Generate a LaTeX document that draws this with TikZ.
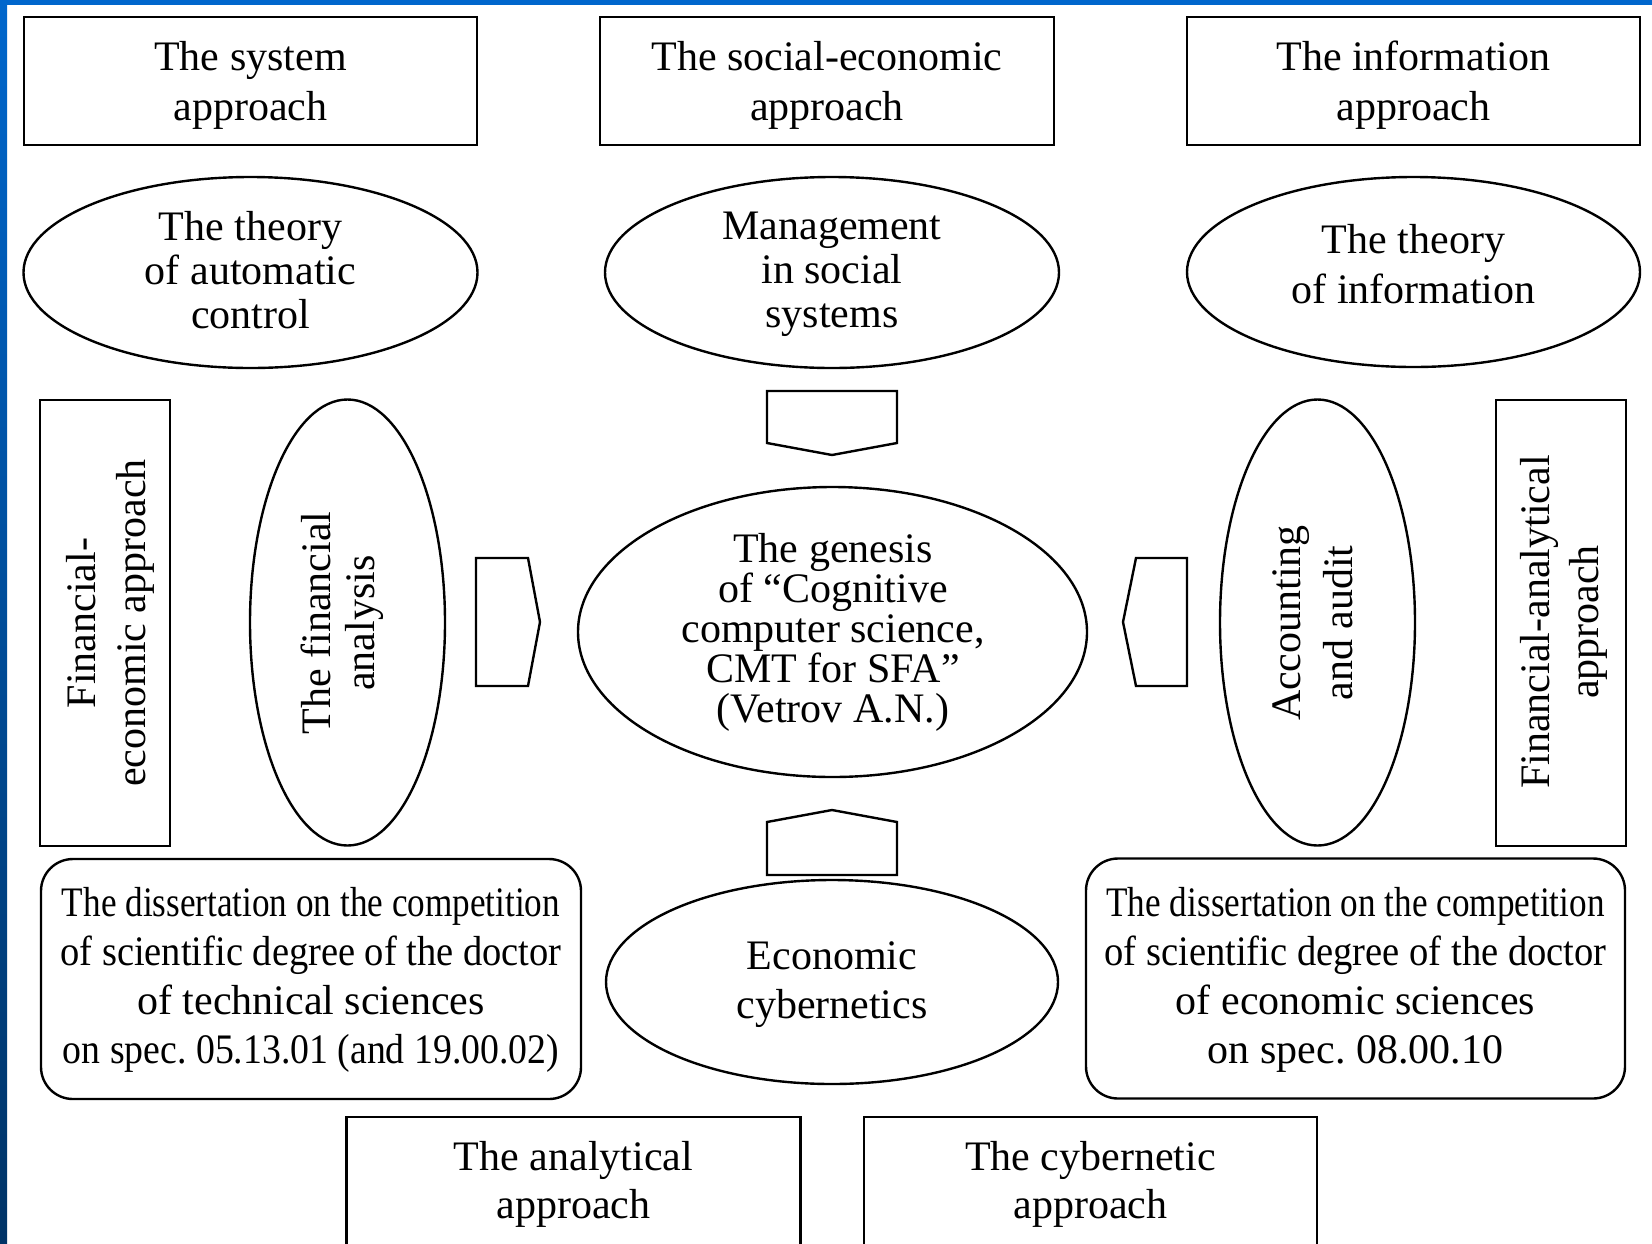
\documentclass[tikz,border=0pt]{standalone}
\usepackage{fontspec}
\setmainfont{Liberation Serif}
\usetikzlibrary{shapes.geometric}
\definecolor{frameblue}{HTML}{0066CC}
\definecolor{framedark}{HTML}{003366}
\newcommand{\squeezeline}[2]{\resizebox{#1pt}{\height}{#2}}
\frenchspacing
\begin{document}
\begin{tikzpicture}[x=1pt,y=-1pt,
  shp/.style={draw=black, line width=2.4pt, inner sep=0pt, fill=white},
  sqbox/.style={shp, rectangle},
  rbox/.style={shp, rectangle, rounded corners=32pt},
  ell/.style={shp, ellipse},
  txt/.style={align=center, inner sep=0pt, font=\frenchspacing\fontsize{42}{#1}\selectfont},
  txt/.default=50,
  chev/.style={draw=black, line width=2.4pt, fill=white, line join=miter}]
\useasboundingbox (0,0) rectangle (1652,1243);
\clip (0,0) rectangle (1652,1243);
\fill[white] (0,0) rectangle (1652,1243);
% frame
\fill[frameblue] (0,0) rectangle (1652,5);
\shade[top color=frameblue, bottom color=framedark] (0,0) rectangle (7,1243);

% top row boxes
\node[sqbox, minimum width=453pt, minimum height=128pt] (sys) at (250.5,81) {};
\node[txt] (syst) at (250.5,85) {The system\\approach};
\node[sqbox, minimum width=454pt, minimum height=128pt] (soc) at (827,81) {};
\node[txt] (soct) at (827,85) {The social-economic\\approach};
\node[sqbox, minimum width=453pt, minimum height=128pt] (inf) at (1413.5,81) {};
\node[txt] (inft) at (1413.5,85) {The information\\approach};

% second row ellipses
\node[ell, minimum width=454pt, minimum height=191pt] (tac) at (250.5,272.5) {};
\node[txt=44] (tact) at (250.5,270) {The theory\\of automatic\\control};
\node[ell, minimum width=454pt, minimum height=191pt] (mss) at (832,272.5) {};
\node[txt=44] (msst) at (832,274.6) {Management\\in social\\systems};
\node[ell, minimum width=453pt, minimum height=190pt] (toi) at (1413.5,272) {};
\node[txt=50] (toit) at (1413.5,264) {The theory\\of information};

% chevrons
\draw[chev] (767,391) -- (897,391) -- (897,443) -- (832,455) -- (767,443) -- cycle;
\draw[chev] (767,875) -- (897,875) -- (897,822) -- (832,810) -- (767,822) -- cycle;
\draw[chev] (476,558) -- (528,558) -- (540,622) -- (528,686) -- (476,686) -- cycle;
\draw[chev] (1187,558) -- (1136,558) -- (1123,622) -- (1136,686) -- (1187,686) -- cycle;

% centre
\node[ell, minimum width=509pt, minimum height=290pt] (gen) at (832.5,632) {};
\node[txt=40] (gent) at (833,632) {The genesis\\of “Cognitive\\computer science,\\CMT for SFA”\\(Vetrov A.N.)};

% vertical shapes
\node[sqbox, minimum width=130pt, minimum height=446pt] (fe) at (105,623) {};
\node[txt=50, rotate=90] (fet) at (110,623) {Financial-\\economic approach};
\node[ell, minimum width=195pt, minimum height=446pt] (fa) at (347.5,622.5) {};
\node[txt=44, rotate=90] (fat) at (342.5,623) {The financial\\analysis};
\node[ell, minimum width=195pt, minimum height=446pt] (aa) at (1317.5,622.5) {};
\node[txt=52, rotate=90] (aat) at (1312.5,623) {Accounting\\and audit};
\node[sqbox, minimum width=130pt, minimum height=446pt] (fan) at (1561,623) {};
\node[txt=49, rotate=90] (fant) at (1564,622) {Financial-analytical\\approach};

% dissertation boxes
\node[rbox, minimum width=540pt, minimum height=240pt] (dl) at (311,979) {};
\node[txt=49] (dlt) at (311,980) {\squeezeline{498}{The dissertation on the competition}\\
  \squeezeline{501}{of scientific degree of the doctor}\\
  of technical sciences\\
  \squeezeline{496}{on spec. 05.13.01 (and 19.00.02)}};
\node[rbox, minimum width=539pt, minimum height=240pt] (dr) at (1355.5,978.5) {};
\node[txt=49] (drt) at (1355.5,980) {\squeezeline{498}{The dissertation on the competition}\\
  \squeezeline{502}{of scientific degree of the doctor}\\
  of economic sciences\\
  on spec. 08.00.10};

% economic cybernetics
\node[ell, minimum width=452pt, minimum height=204pt] (ec) at (832,982) {};
\node[txt=49] (ect) at (832,985) {Economic\\cybernetics};

% bottom boxes
\node[sqbox, minimum width=454pt, minimum height=128pt] (an) at (573.5,1181) {};
\node[txt=48] (ant) at (573.5,1184) {The analytical\\approach};
\node[sqbox, minimum width=453pt, minimum height=128pt] (cy) at (1090.5,1181) {};
\node[txt=48] (cyt) at (1090.5,1184) {The cybernetic\\approach};
\end{tikzpicture}
\end{document}
